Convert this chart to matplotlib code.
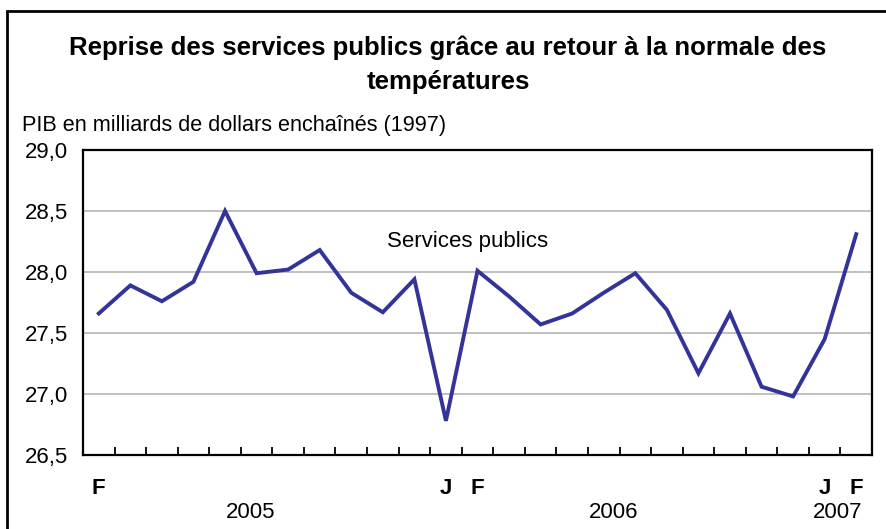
import matplotlib.pyplot as plt
from matplotlib.patches import Rectangle
import matplotlib.transforms as mtransforms

plt.rcParams['font.family'] = ['Liberation Sans', 'DejaVu Sans']

# Monthly GDP of utilities, Feb 2005 - Feb 2007
months = ['F', 'M', 'A', 'M', 'J', 'J', 'A', 'S', 'O', 'N', 'D',
          'J', 'F', 'M', 'A', 'M', 'J', 'J', 'A', 'S', 'O', 'N', 'D',
          'J', 'F']
values = [27.66, 27.89, 27.76, 27.92, 28.50, 27.99, 28.02, 28.18, 27.83, 27.67, 27.94,
          26.78, 28.01, 27.80, 27.57, 27.66, 27.83, 27.99, 27.69, 27.17, 27.66, 27.06,
          26.98, 27.45, 28.31]
shown_months = [0, 11, 12, 23, 24]
years = ['2005', '2006', '2007']
year_pos = [4.8, 16.3, 23.4]
yticks = [26.5, 27.0, 27.5, 28.0, 28.5, 29.0]

fig = plt.figure(figsize=(8.86, 5.29), dpi=100)
ax = fig.add_axes([83 / 886, 74 / 529, 789 / 886, 305 / 529])

x = list(range(len(values)))
ax.plot(x, values, color='#333399', lw=2.8, solid_joinstyle='miter')

ax.set_xlim(-0.5, len(values) - 0.5)
ax.set_ylim(26.5, 29.0)
ax.set_yticks(yticks)
ax.set_yticklabels([f'{v:.1f}'.replace('.', ',') for v in yticks], fontsize=16)
ax.tick_params(axis='y', length=0, pad=11)
ax.yaxis.grid(True, color='#c0c0c0', lw=1.4)
ax.set_axisbelow(True)

ax.set_xticks([])
ax.set_xticks([i + 0.5 for i in range(len(values) - 1)], minor=True)
ax.tick_params(axis='x', which='minor', direction='in', length=6, width=1.3)
for s in ax.spines.values():
    s.set_linewidth(1.6)

trans = mtransforms.blended_transform_factory(ax.transData, fig.transFigure)
for i in shown_months:
    ax.text(i, 1 - 489 / 529, months[i], transform=trans, ha='center', va='center',
            fontsize=16, fontweight='bold')
for lab, p in zip(years, year_pos):
    ax.text(p, 1 - 512 / 529, lab, transform=trans, ha='center', va='center', fontsize=16)

ax.text(11.67, 28.25, 'Services publics', ha='center', va='center', fontsize=16)

fig.text(448 / 886, 1 - 48 / 529,
         'Reprise des services publics grâce au retour à la normale des',
         ha='center', va='center', fontsize=18.5, fontweight='bold')
fig.text(448 / 886, 1 - 82 / 529, 'températures',
         ha='center', va='center', fontsize=18.5, fontweight='bold')
fig.text(22 / 886, 1 - 125 / 529, 'PIB en milliards de dollars enchaînés (1997)',
         ha='left', va='center', fontsize=15.6)

# outer frame, only left and top edges fall inside the image
fig.patches.append(Rectangle((7 / 886, -0.1), 1.2, 1 - 11 / 529 + 0.1,
                             transform=fig.transFigure, fill=False,
                             edgecolor='black', lw=2))

fig.savefig('out.png', dpi=100)
